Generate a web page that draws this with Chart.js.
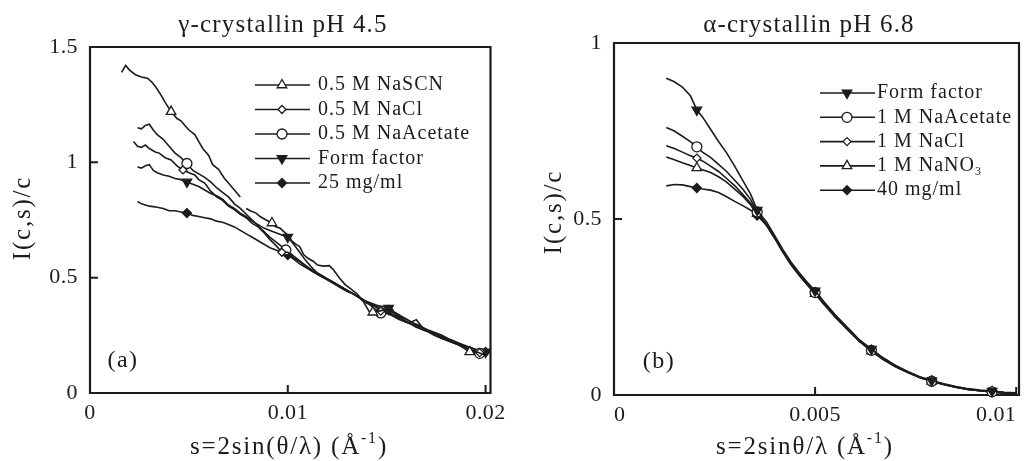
<!DOCTYPE html>
<html><head><meta charset="utf-8">
<script src="https://cdn.jsdelivr.net/npm/chart.js@4.4.1/dist/chart.umd.min.js"></script>
<style>
html,body{margin:0;padding:0;background:#fff;overflow:hidden}
.p{position:absolute;top:0;width:512px;height:461px}
#pa{left:0}#pb{left:512px}
canvas{display:block}
</style></head><body>
<div class="p" id="pa"><canvas id="ca" width="512" height="461"></canvas></div>
<div class="p" id="pb"><canvas id="cb" width="512" height="461"></canvas></div>
<script>
// ---------- Panel (a): gamma-crystallin pH 4.5 ----------
const aXRange = [0, 0.02025];
const aYRange = [0, 1.5];
const aXTicks = [0, 0.01, 0.02];
const aXTickLabels = ['0', '0.01', '0.02'];
const aYTicks = [0, 0.5, 1, 1.5];
const aYTickLabels = ['0', '0.5', '1', '1.5'];

const scnLabel = '0.5 M NaSCN';
const scnX = [0.0016,0.0018,0.0020,0.0023,0.0026,0.0029,0.0031,0.0033,0.0036,0.0038,0.0041,0.0044,0.0046,0.0048,0.0050,0.0053,0.0055,0.0057,0.0060,0.0062,0.0065,0.0068,0.0070,0.0073,0.0076,0.0077,0.0079,0.0081,0.0084,0.0086,0.0089,0.0092,0.0094,0.0096,0.0098,0.0100,0.0102,0.0104,0.0106,0.0108,0.0110,0.0113,0.0115,0.0118,0.0121,0.0123,0.0126,0.0129,0.0132,0.0135,0.0138,0.0141,0.0143,0.0146,0.0149,0.0152,0.0155,0.0158,0.0161,0.0163,0.0165,0.0168,0.0171,0.0174,0.0177,0.0180,0.0183,0.0186,0.0189,0.0192,0.0195,0.0198,0.0200];
const scnY = [1.39,1.42,1.40,1.38,1.37,1.365,1.35,1.33,1.29,1.26,1.22,1.19,1.18,1.16,1.14,1.12,1.09,1.06,1.03,0.99,0.97,0.93,0.91,0.88,0.85,null,0.80,0.79,0.78,0.765,0.75,0.737,0.72,0.715,0.70,0.685,0.66,0.645,0.635,0.60,0.585,0.57,0.555,0.55,0.552,0.535,0.50,0.47,0.45,0.43,0.40,0.355,0.35,0.355,0.36,0.345,0.335,0.32,0.305,0.31,0.318,0.285,0.27,0.26,0.245,0.235,0.22,0.21,0.195,0.178,0.18,0.17,0.165];
const scnMarks = [0.0041,0.0092,0.0143,0.0192];

const clLabel = '0.5 M NaCl';
const clX = [0.0022,0.0024,0.0026,0.0028,0.0030,0.0033,0.0035,0.0038,0.0041,0.0044,0.0047,0.0050,0.0053,0.0055,0.0058,0.0061,0.0064,0.0067,0.0070,0.0073,0.0076,0.0079,0.0082,0.0085,0.0088,0.0091,0.0094,0.0097,0.0100,0.0103,0.0106,0.0109,0.0112,0.0115,0.0118,0.0121,0.0124,0.0127,0.0130,0.0133,0.0136,0.0139,0.0142,0.0145,0.0147,0.0150,0.0153,0.0156,0.0159,0.0162,0.0165,0.0168,0.0171,0.0174,0.0177,0.0180,0.0183,0.0186,0.0189,0.0192,0.0195,0.0197,0.0200];
const clY = [1.09,1.07,1.065,1.075,1.06,1.045,1.04,1.02,1.01,0.985,0.967,0.955,0.945,0.925,0.91,0.875,0.85,0.835,0.81,0.795,0.775,0.76,0.735,0.72,0.695,0.665,0.64,0.61,0.61,0.585,0.57,0.55,0.53,0.515,0.50,0.49,0.475,0.46,0.445,0.43,0.415,0.395,0.385,0.37,0.355,0.35,0.335,0.325,0.31,0.30,0.29,0.275,0.265,0.255,0.24,0.23,0.22,0.21,0.20,0.19,0.18,0.175,0.17];
const clMarks = [0.0047,0.0097,0.0147,0.0197];

const acLabel = '0.5 M NaAcetate';
const acX = [0.0024,0.0026,0.0028,0.0030,0.0032,0.0034,0.0037,0.0040,0.0043,0.0046,0.0049,0.0052,0.0055,0.0058,0.0061,0.0064,0.0067,0.0070,0.0073,0.0076,0.0079,0.0082,0.0085,0.0088,0.0091,0.0094,0.0097,0.0099,0.0102,0.0105,0.0108,0.0111,0.0114,0.0117,0.0120,0.0123,0.0126,0.0129,0.0132,0.0135,0.0138,0.0141,0.0144,0.0147,0.0150,0.0153,0.0156,0.0159,0.0162,0.0165,0.0168,0.0171,0.0174,0.0177,0.0180,0.0183,0.0186,0.0189,0.0192,0.0195,0.0197,0.0200];
const acY = [1.15,1.145,1.16,1.165,1.14,1.12,1.10,1.07,1.04,1.02,0.995,0.965,0.95,0.935,0.915,0.89,0.87,0.85,0.82,0.80,0.775,0.75,0.725,0.70,0.675,0.655,0.635,0.62,0.60,0.58,0.56,0.54,0.525,0.51,0.495,0.48,0.465,0.45,0.435,0.42,0.40,0.385,0.365,0.347,0.345,0.335,0.32,0.31,0.30,0.285,0.275,0.265,0.25,0.24,0.23,0.22,0.21,0.20,0.19,0.18,0.172,0.168];
const acMarks = [0.0049,0.0099,0.0147,0.0197];

const ffLabel = 'Form factor';
const ffX = [0.0024,0.0026,0.0028,0.0030,0.0032,0.0034,0.0037,0.0040,0.0043,0.0046,0.0049,0.0052,0.0055,0.0058,0.0061,0.0064,0.0067,0.0070,0.0073,0.0076,0.0079,0.0082,0.0085,0.0088,0.0091,0.0094,0.0097,0.0100,0.0103,0.0106,0.0109,0.0112,0.0115,0.0118,0.0121,0.0124,0.0127,0.0130,0.0133,0.0136,0.0139,0.0142,0.0145,0.0148,0.0151,0.0154,0.0157,0.0160,0.0163,0.0166,0.0169,0.0172,0.0175,0.0178,0.0181,0.0184,0.0187,0.0190,0.0193,0.0196,0.0200];
const ffY = [0.98,0.975,0.985,0.99,0.965,0.955,0.945,0.94,0.93,0.925,0.915,0.905,0.895,0.88,0.865,0.855,0.84,0.815,0.80,0.78,0.765,0.745,0.73,0.715,0.705,0.695,0.685,0.676,0.645,0.61,0.575,0.545,0.52,0.505,0.49,0.475,0.46,0.445,0.43,0.415,0.40,0.39,0.38,0.375,0.368,0.35,0.335,0.32,0.305,0.29,0.28,0.265,0.255,0.245,0.235,0.225,0.21,0.20,0.195,0.185,0.178];
const ffMarks = [0.0049,0.0100,0.0151,0.0200];

const mgLabel = '25 mg/ml';
const mgX = ffX;
const mgY = [0.83,0.82,0.815,0.81,0.808,0.805,0.80,0.79,0.79,0.785,0.78,0.77,0.765,0.76,0.755,0.745,0.74,0.73,0.72,0.705,0.69,0.675,0.66,0.645,0.63,0.62,0.61,0.598,0.58,0.56,0.545,0.53,0.515,0.50,0.485,0.47,0.455,0.44,0.43,0.415,0.40,0.385,0.375,0.365,0.36,0.345,0.33,0.32,0.305,0.295,0.28,0.27,0.26,0.25,0.235,0.225,0.215,0.205,0.195,0.185,0.178];
const mgMarks = [0.0049,0.0100,0.0151,0.0200];

// ---------- Panel (b): alpha-crystallin pH 6.8 ----------
const bXRange = [0, 0.01007];
const bYRange = [0, 1];
const bXTicks = [0, 0.005, 0.01];
const bXTickLabels = ['0', '0.005', '0.01'];
const bYTicks = [0, 0.5, 1];
const bYTickLabels = ['0', '0.5', '1'];

const bX = [0.0013,0.0015,0.0017,0.0019,0.00206,0.0022,0.0024,0.0026,0.0028,0.0030,0.0032,0.0034,0.00356,0.0038,0.0040,0.0042,0.0044,0.0046,0.0048,0.0050,0.0052,0.0055,0.0058,0.0061,0.0064,0.0067,0.0070,0.0073,0.0076,0.0079,0.0082,0.0085,0.0088,0.0091,0.0094,0.0097,0.0100];
const bMarks = [0.00206,0.00356,0.0050,0.0064,0.0079,0.0094];
const bffLabel = 'Form factor';
const bffY = [0.90,0.89,0.875,0.85,0.81,0.79,0.755,0.72,0.688,0.65,0.61,0.57,0.525,0.49,0.452,0.413,0.378,0.348,0.321,0.296,0.268,0.228,0.192,0.157,0.130,0.105,0.084,0.067,0.052,0.041,0.032,0.024,0.018,0.014,0.011,0.008,0.006];
const bacLabel = '1 M NaAcetate';
const bacY = [0.76,0.75,0.735,0.72,0.705,0.69,0.675,0.655,0.635,0.61,0.585,0.555,0.52,0.483,0.447,0.408,0.373,0.343,0.316,0.291,0.263,0.224,0.189,0.154,0.127,0.102,0.081,0.065,0.050,0.039,0.030,0.022,0.016,0.012,0.009,0.006,0.004];
const bclLabel = '1 M NaCl';
const bclY = [0.708,0.70,0.69,0.68,0.673,0.665,0.65,0.635,0.615,0.595,0.57,0.545,0.515,0.482,0.446,0.407,0.372,0.342,0.315,0.290,0.262,0.223,0.188,0.153,0.126,0.101,0.081,0.065,0.050,0.039,0.030,0.022,0.016,0.012,0.009,0.006,0.004];
const bnoLabel = '1 M NaNO_{3}';
const bnoY = [0.676,0.668,0.66,0.652,0.645,0.64,0.632,0.62,0.605,0.585,0.565,0.54,0.515,0.48,0.444,0.405,0.37,0.34,0.313,0.288,0.26,0.221,0.186,0.152,0.125,0.100,0.080,0.064,0.050,0.039,0.030,0.022,0.016,0.012,0.009,0.006,0.004];
const bmgLabel = '40 mg/ml';
const bmgY = [0.594,0.598,0.597,0.592,0.588,0.585,0.582,0.575,0.563,0.55,0.538,0.525,0.51,0.482,0.448,0.41,0.375,0.345,0.318,0.293,0.265,0.226,0.191,0.156,0.129,0.104,0.083,0.066,0.051,0.040,0.031,0.023,0.017,0.013,0.010,0.007,0.005];

// ---------- helpers ----------
const INK = '#1c1c1c';
const FONT = '"Liberation Serif","Times New Roman",serif';
const zip = (xs, ys) => xs.map((x, i) => ({x, y: ys[i] === undefined ? null : ys[i]}));
const near = (v, list) => list.some(m => Math.abs(m - v) < 1e-7);

const STYLES = {
  tri:   {pointStyle: 'triangle', rot: 0,   fill: '#fff', r: 5.5},
  dtri:  {pointStyle: 'triangle', rot: 180, fill: INK,    r: 5.5},
  circ:  {pointStyle: 'circle',   rot: 0,   fill: '#fff', r: 5},
  dia:   {pointStyle: 'rectRot',  rot: 0,   fill: '#fff', r: 4},
  fdia:  {pointStyle: 'rectRot',  rot: 0,   fill: INK,    r: 4.5}
};

function series(label, xs, ys, marks, st) {
  const s = STYLES[st];
  return {
    label, data: zip(xs, ys),
    borderColor: INK, borderWidth: 1.6, tension: 0, spanGaps: false,
    pointStyle: s.pointStyle, pointRotation: s.rot,
    pointBackgroundColor: s.fill, pointBorderColor: INK, pointBorderWidth: 1.3,
    pointRadius: c => (c.raw && near(c.raw.x, marks)) ? s.r : 0,
    pointHoverRadius: 0, clip: 10
  };
}

// plot frame and inward tick marks, drawn as line datasets through the chart's own scales
function frameSets(xr, yr, xt, yt, plotW, plotH) {
  const box = [
    {x: xr[0], y: yr[0]}, {x: xr[1], y: yr[0]}, {x: xr[1], y: yr[1]},
    {x: xr[0], y: yr[1]}, {x: xr[0], y: yr[0]}
  ];
  const tx = (xr[1] - xr[0]) * 7 / plotW, ty = (yr[1] - yr[0]) * 7 / plotH;
  const marks = [];
  xt.filter(v => v > xr[0] && v < xr[1]).forEach(v => {
    marks.push({x: v, y: yr[0]}, {x: v, y: yr[0] + ty}, {x: v, y: null});
  });
  yt.filter(v => v > yr[0] && v < yr[1]).forEach(v => {
    marks.push({x: xr[0], y: v}, {x: xr[0] + tx, y: v}, {x: xr[0] + tx, y: null});
  });
  const base = {isFrame: true, borderColor: INK, pointRadius: 0, pointHoverRadius: 0,
                tension: 0, spanGaps: false, clip: 12, borderCapStyle: 'square'};
  return [
    Object.assign({label: 'frame', data: box, borderWidth: 2.2, borderJoinStyle: 'miter'}, base),
    Object.assign({label: 'ticks', data: marks, borderWidth: 2}, base)
  ];
}

function parseRich(s) {
  const out = []; const re = /([\^_])\{([^}]*)\}/g; let last = 0, m;
  while ((m = re.exec(s))) {
    if (m.index > last) out.push({t: s.slice(last, m.index), k: 0});
    out.push({t: m[2], k: m[1] === '^' ? 1 : -1});
    last = re.lastIndex;
  }
  if (last < s.length) out.push({t: s.slice(last), k: 0});
  return out;
}
function drawRich(ctx, s, x, y, size, align, spacing) {
  const segs = parseRich(s);
  const f = k => `${k ? Math.round(size * 0.62) : size}px ${FONT}`;
  ctx.letterSpacing = spacing + 'px';
  let w = 0;
  segs.forEach(g => { ctx.font = f(g.k); g.w = ctx.measureText(g.t).width; w += g.w; });
  let cx = align === 'center' ? x - w / 2 : x;
  ctx.textAlign = 'left'; ctx.textBaseline = 'middle'; ctx.fillStyle = INK;
  segs.forEach(g => {
    ctx.font = f(g.k);
    const dy = g.k === 1 ? -size * 0.33 : (g.k === -1 ? size * 0.28 : 0);
    ctx.fillText(g.t, cx, y + dy);
    cx += g.w;
  });
  ctx.letterSpacing = '0px';
}
function marker(ctx, st, x, y) {
  const s = STYLES[st];
  ctx.save();
  ctx.fillStyle = s.fill; ctx.strokeStyle = INK; ctx.lineWidth = 1.3;
  if (Chart.helpers && Chart.helpers.drawPoint) {
    Chart.helpers.drawPoint(ctx, {pointStyle: s.pointStyle, rotation: s.rot, radius: s.r, borderWidth: 1.3}, x, y);
  }
  ctx.restore();
}

const deco = {
  id: 'deco',
  beforeDraw(chart) { chart.ctx.letterSpacing = '0.4px'; },
  afterDraw(chart, args, o) {
    const ctx = chart.ctx;
    ctx.save();
    drawRich(ctx, o.heading, o.headX, o.headY, 25, 'center', 1.2);
    drawRich(ctx, o.xTitle, o.xTitleX, o.xTitleY, 25, 'center', 1.8);
    ctx.save();
    ctx.translate(o.yTitleX, o.yTitleY); ctx.rotate(-Math.PI / 2);
    drawRich(ctx, o.yTitle, 0, 0, 25, 'center', 1.8);
    ctx.restore();
    drawRich(ctx, o.panel, o.panelX, o.panelY, 24, 'center', 1.5);
    const Lg = o.key;
    chart.data.datasets.filter(ds => !ds.isFrame).forEach((ds, i) => {
      const y = Lg.y0 + i * Lg.dy;
      ctx.strokeStyle = INK; ctx.lineWidth = 1.6;
      ctx.beginPath(); ctx.moveTo(Lg.x0, y); ctx.lineTo(Lg.x1, y); ctx.stroke();
      marker(ctx, Lg.marks[i], Lg.xm, y);
      drawRich(ctx, ds.label, Lg.xt, y, 20, 'left', 1);
    });
    ctx.restore();
  }
};

function makeChart(id, datasets, xr, yr, xt, xtl, yt, ytl, pad, yW, xH, xAlign, decoOpts) {
  const plotW = 512 - pad.left - pad.right - yW;
  const plotH = 461 - pad.top - pad.bottom - xH;
  const all = datasets.concat(frameSets(xr, yr, xt, yt, plotW, plotH));
  return new Chart(document.getElementById(id), {
    type: 'line',
    data: {datasets: all},
    plugins: [deco],
    options: {
      responsive: false, animation: false, devicePixelRatio: 1,
      layout: {padding: pad},
      plugins: {legend: {display: false}, tooltip: {enabled: false}, deco: decoOpts},
      scales: {
        x: {
          type: 'linear', min: xr[0], max: xr[1],
          grid: {display: false, drawTicks: false},
          border: {display: true, color: INK, width: 2},
          afterBuildTicks: s => { s.ticks = xt.map(v => ({value: v})); },
          afterFit: s => { s.height = xH; },
          ticks: {
            padding: 7, color: INK, align: xAlign, maxRotation: 0, autoSkip: false,
            font: {family: FONT, size: 22},
            callback: (v) => { const i = xt.findIndex(t => Math.abs(t - v) < 1e-9); return i >= 0 ? xtl[i] : ''; }
          }
        },
        y: {
          type: 'linear', min: yr[0], max: yr[1],
          grid: {display: false, drawTicks: false},
          border: {display: true, color: INK, width: 2},
          afterBuildTicks: s => { s.ticks = yt.map(v => ({value: v})); },
          afterFit: s => { s.width = yW; },
          ticks: {
            padding: 12, color: INK,
            font: {family: FONT, size: 22},
            callback: (v) => { const i = yt.findIndex(t => Math.abs(t - v) < 1e-9); return i >= 0 ? ytl[i] : ''; }
          }
        }
      }
    }
  });
}

makeChart('ca', [
  series(scnLabel, scnX, scnY, scnMarks, 'tri'),
  series(clLabel, clX, clY, clMarks, 'dia'),
  series(acLabel, acX, acY, acMarks, 'circ'),
  series(ffLabel, ffX, ffY, ffMarks, 'dtri'),
  series(mgLabel, mgX, mgY, mgMarks, 'fdia')
], aXRange, aYRange, aXTicks, aXTickLabels, aYTicks, aYTickLabels,
  {top: 47, right: 15, left: 0, bottom: 0}, 90, 68, 'center',
  {heading: 'γ-crystallin pH 4.5', headX: 283, headY: 25,
   xTitle: 's=2sin(θ/λ) (Å^{-1})', xTitleX: 289, xTitleY: 447,
   yTitle: 'I(c,s)/c', yTitleX: 23, yTitleY: 218,
   panel: '(a)', panelX: 123, panelY: 361,
   key: {x0: 255, x1: 310, xm: 282, xt: 318, y0: 85, dy: 24.5, marks: ['tri', 'dia', 'circ', 'dtri', 'fdia']}});

makeChart('cb', [
  series(bffLabel, bX, bffY, bMarks, 'dtri'),
  series(bacLabel, bX, bacY, bMarks, 'circ'),
  series(bclLabel, bX, bclY, bMarks, 'dia'),
  series(bnoLabel, bX, bnoY, bMarks, 'tri'),
  series(bmgLabel, bX, bmgY, bMarks, 'fdia')
], bXRange, bYRange, bXTicks, bXTickLabels, bYTicks, bYTickLabels,
  {top: 43, right: 5, left: 0, bottom: 0}, 102, 66, 'inner',
  {heading: 'α-crystallin pH 6.8', headX: 297, headY: 25,
   xTitle: 's=2sinθ/λ (Å^{-1})', xTitleX: 293, xTitleY: 447,
   yTitle: 'I(c,s)/c', yTitleX: 42, yTitleY: 212,
   panel: '(b)', panelX: 147, panelY: 362,
   key: {x0: 308, x1: 363, xm: 335, xt: 365, y0: 93, dy: 24.3, marks: ['dtri', 'circ', 'dia', 'tri', 'fdia']}});
</script></body></html>
